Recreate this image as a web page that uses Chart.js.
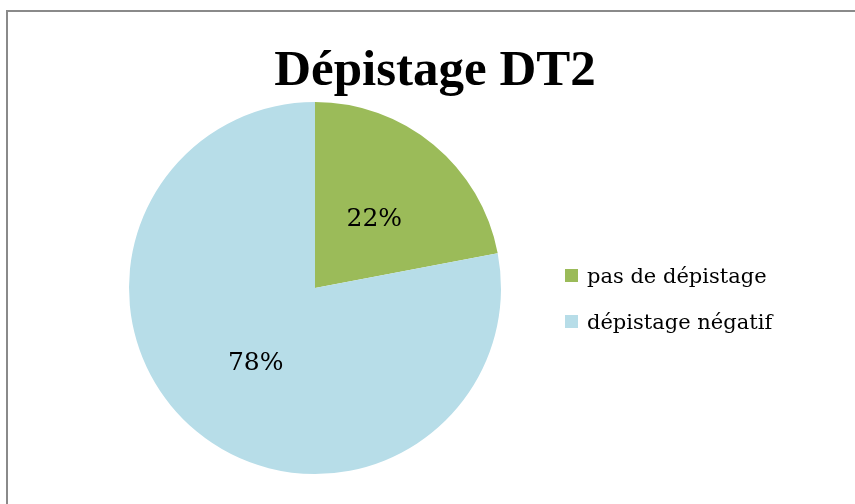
<!DOCTYPE html>
<html lang="fr">
<head>
  <meta charset="UTF-8">
  <title>Dépistage DT2</title>
  <script src="https://cdn.jsdelivr.net/npm/chart.js@4"></script>
  <style>
    html, body { margin: 0; padding: 0; overflow: hidden; background: #fff; }
    #frame { position: absolute; left: 6px; top: 10px; width: 900px; height: 600px;
             border: 2px solid #8a8a8a; box-sizing: border-box; }
    #wrap { position: absolute; left: 0; top: 0; width: 855px; height: 504px; }
  </style>
</head>
<body>
  <div id="frame"></div>
  <div id="wrap"><canvas id="myChart" width="855" height="504"></canvas></div>
  <script>
    const chartTitle = 'Dépistage DT2';
    const categories = ['pas de dépistage', 'dépistage négatif'];
    const values = [22, 78];
    const sliceColors = ['#9BBB59', '#B7DDE8'];

    // titre, légende et pourcentages dessinés à la main (placement type Excel)
    const decor = {
      id: 'decor',
      afterDatasetsDraw(chart) {
        const ctx = chart.ctx;
        const meta = chart.getDatasetMeta(0);
        const total = values.reduce((a, b) => a + b, 0);
        ctx.save();
        ctx.fillStyle = '#000';
        ctx.textAlign = 'center';
        ctx.textBaseline = 'alphabetic';
        ctx.font = '25px "DejaVu Serif"';
        meta.data.forEach((arc, i) => {
          const p = arc.tooltipPosition();
          ctx.fillText(Math.round(values[i] / total * 100) + '%', p.x, p.y + 10);
        });

        ctx.font = 'bold 51px "Liberation Serif"';
        ctx.fillText(chartTitle, 435, 85);

        ctx.textAlign = 'left';
        ctx.font = '21px "DejaVu Serif"';
        const rows = [283, 329];
        categories.forEach((c, i) => {
          ctx.fillStyle = sliceColors[i];
          ctx.fillRect(565, rows[i] - 14, 13, 13);
          ctx.fillStyle = '#000';
          ctx.fillText(c, 587, rows[i]);
        });
        ctx.restore();
      }
    };

    const ctx = document.getElementById('myChart').getContext('2d');
    new Chart(ctx, {
      type: 'pie',
      data: {
        labels: categories,
        datasets: [{
          data: values,
          backgroundColor: sliceColors,
          borderWidth: 0
        }]
      },
      options: {
        responsive: false,
        animation: false,
        layout: { padding: { left: 129, top: 102, right: 354, bottom: 30 } },
        plugins: {
          legend: { display: false },
          title: { display: false },
          tooltip: { enabled: false }
        }
      },
      plugins: [decor]
    });
  </script>
</body>
</html>
